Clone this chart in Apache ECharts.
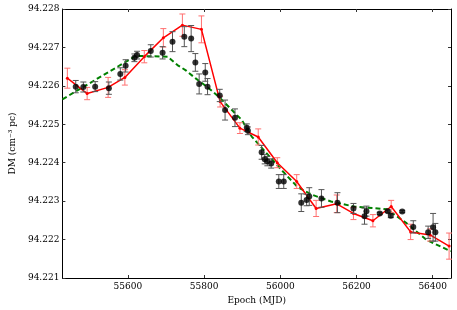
<!DOCTYPE html>
<html><head><meta charset="utf-8">
<script src="https://cdn.jsdelivr.net/npm/echarts@6/dist/echarts.min.js"></script>
<style>html,body{margin:0;padding:0;background:#fff}#c{width:457px;height:310px}</style>
</head><body><div id="c"></div>
<script>
// X axis ticks and Y ticks
const xTicks = [55600, 55800, 56000, 56200, 56400];
const yTicks = [94.221, 94.222, 94.223, 94.224, 94.225, 94.226, 94.227, 94.228];

// Black points (measured DM per epoch)
const blackMjd = [55463,55483,55514,55550,55580,55594,55617,55624,55660,55691,55717,55748,55766,55777,55787,55803,55809,55841,55855,55881,55912,55915,55951,55959,55966,55976,55996,56009,56055,56069,56076,56108,56150,56192,56221,56226,56261,56282,56290,56320,56349,56388,56401,56407];
const blackDm = [94.22598,94.22597,94.22598,94.22594,94.22631,94.22652,94.22673,94.22680,94.22691,94.22686,94.22715,94.22728,94.22723,94.22661,94.22605,94.22635,94.22598,94.22575,94.22537,94.22517,94.22491,94.22483,94.22427,94.22409,94.22404,94.22398,94.22351,94.22351,94.22296,94.22303,94.22312,94.22307,94.22296,94.22281,94.22261,94.22274,94.22268,94.22274,94.22262,94.22273,94.22233,94.22219,94.22232,94.22219];
const blackErr = [0.00016,0.00013,0.00013,0.00016,0.00016,0.00016,0.0001,0.0001,0.00016,0.00016,0.00026,0.00026,0.00034,0.00023,0.00026,0.00023,0.00021,0.00016,0.00026,0.00023,0.0001,0.0001,0.00018,0.00012,0.00012,0.00012,0.00018,0.00018,0.00023,0.00015,0.00023,0.00023,0.00026,0.00013,0.00021,0.00013,0.00003,0.00003,0.00005,0.00003,0.00016,0.00016,0.00036,0.00023];

// Red binned series
const redMjd = [55441,55493,55548,55592,55643,55693,55743,55793,55842,55894,55942,55992,56043,56094,56148,56192,56243,56291,56342,56393,56443];
const redDm = [94.22620,94.22580,94.22596,94.22622,94.22676,94.22725,94.22758,94.22747,94.22559,94.22490,94.22467,94.22400,94.22351,94.22281,94.22293,94.22268,94.22249,94.22286,94.22220,94.22212,94.22183];
const redErr = [0.00026,0.00016,0.00026,0.0002,0.00016,0.00024,0.00029,0.00035,0.00014,0.00014,0.00021,0.00013,0.00018,0.00021,0.00023,0.00016,0.00016,0.00016,0.0002,0.00016,0.00034];

// Green dashed model curve
const greenMjd = [55428,55621,55704,55730,55751,55777,55812,55838,55873,55899,55925,56007,56046,56085,56133,56193,56280,56332,56384,56440,56448];
const greenDm = [94.22565,94.22678,94.22676,94.22654,94.22641,94.22620,94.22594,94.22572,94.22537,94.22511,94.22468,94.22377,94.22336,94.22316,94.22299,94.22286,94.22279,94.22242,94.22199,94.22173,94.22170];

const FONT = 'DejaVu Serif';
const zip = (a, b, c) => a.map((v, i) => c ? [v, b[i], c[i]] : [v, b[i]]);

function errRender(color, hw, lw) {
  return function (params, api) {
    const x = api.value(0), y = api.value(1), e = api.value(2);
    const t = api.coord([x, y + e]), b = api.coord([x, y - e]);
    const st = { stroke: color, lineWidth: lw };
    return { type: 'group', children: [
      { type: 'line', shape: { x1: t[0], y1: t[1], x2: b[0], y2: b[1] }, style: st },
      { type: 'line', shape: { x1: t[0] - hw, y1: t[1], x2: t[0] + hw, y2: t[1] }, style: st },
      { type: 'line', shape: { x1: b[0] - hw, y1: b[1], x2: b[0] + hw, y2: b[1] }, style: st }
    ]};
  };
}

const chart = echarts.init(document.getElementById('c'), null, { renderer: 'canvas' });
const axisLineStyle = { show: true, lineStyle: { color: '#000', width: 1 } };
chart.setOption({
  animation: false,
  grid: { left: 59, right: 6, top: 9, bottom: 32 },
  xAxis: [{
    type: 'value', min: 55428, max: 56448, position: 'bottom',
    axisLine: axisLineStyle,
    axisTick: { show: true, inside: true, length: 3, customValues: xTicks, lineStyle: { color: '#333' } },
    axisLabel: { customValues: xTicks, fontFamily: FONT, fontSize: 9, color: '#000', margin: 4,
      formatter: v => String(Math.round(v)) },
    splitLine: { show: false },
    name: 'Epoch (MJD)', nameLocation: 'middle', nameGap: 17,
    nameTextStyle: { fontFamily: FONT, fontSize: 9, color: '#000' }
  }, {
    type: 'value', min: 55428, max: 56448, position: 'top',
    axisLine: axisLineStyle,
    axisTick: { show: true, inside: true, length: 3, customValues: xTicks, lineStyle: { color: '#333' } },
    axisLabel: { show: false }, splitLine: { show: false }
  }],
  yAxis: [{
    type: 'value', min: 94.221, max: 94.228, position: 'left',
    axisLine: axisLineStyle,
    axisTick: { show: true, inside: true, length: 3, customValues: yTicks, lineStyle: { color: '#333' } },
    axisLabel: { customValues: yTicks, fontFamily: FONT, fontSize: 9, color: '#000', margin: 3,
      formatter: v => Number(v).toFixed(3) },
    splitLine: { show: false },
    name: 'DM (cm\u207B\u00B3 pc)', nameLocation: 'middle', nameGap: 44, nameRotate: 90,
    nameTextStyle: { fontFamily: FONT, fontSize: 9, color: '#000' }
  }, {
    type: 'value', min: 94.221, max: 94.228, position: 'right',
    axisLine: axisLineStyle,
    axisTick: { show: true, inside: true, length: 3, customValues: yTicks, lineStyle: { color: '#333' } },
    axisLabel: { show: false }, splitLine: { show: false }
  }],
  series: [
    { type: 'line', data: zip(greenMjd, greenDm), showSymbol: false, symbol: 'none',
      lineStyle: { color: '#008000', width: 2, type: [5, 3] }, z: 1, clip: true },
    { type: 'custom', data: zip(redMjd, redDm, redErr), encode: { x: 0, y: 1 },
      renderItem: errRender('#ff7070', 3, 1), z: 2, clip: true },
    { type: 'line', data: zip(redMjd, redDm), symbol: 'circle', symbolSize: 3,
      itemStyle: { color: '#ff0000' }, lineStyle: { color: '#ff0000', width: 1.5 }, z: 3, clip: true },
    { type: 'custom', data: zip(blackMjd, blackDm, blackErr), encode: { x: 0, y: 1 },
      renderItem: errRender('#555555', 3, 1), z: 4, clip: true },
    { type: 'scatter', data: zip(blackMjd, blackDm), symbol: 'circle', symbolSize: 6,
      itemStyle: { color: '#000' }, z: 5 }
  ]
});
</script></body></html>
